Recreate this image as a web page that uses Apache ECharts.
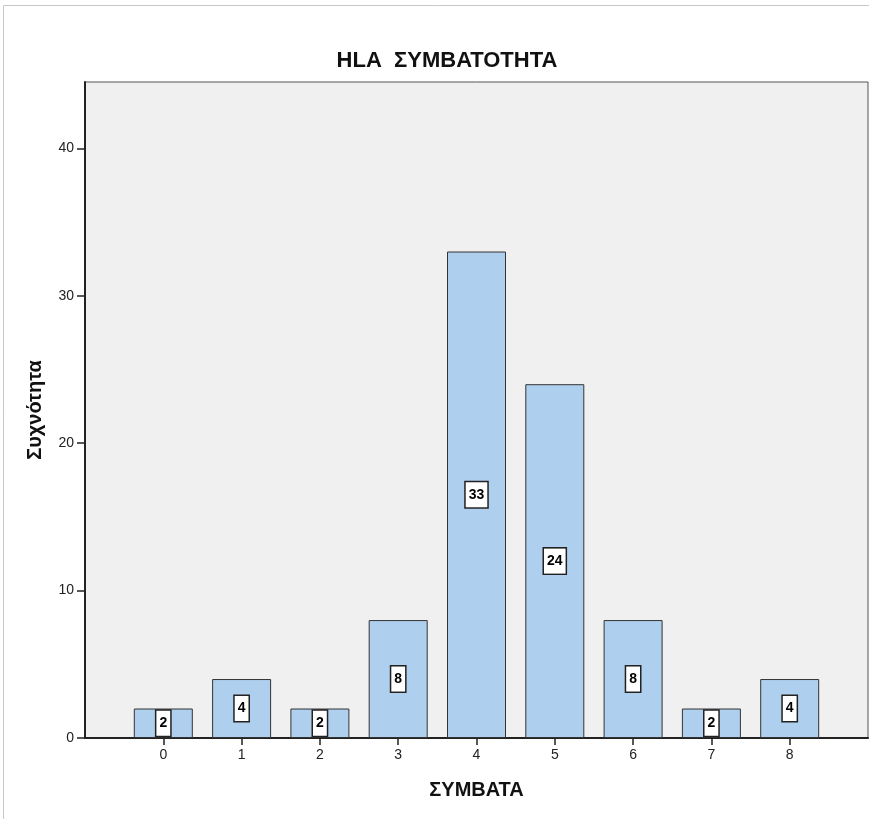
<!DOCTYPE html>
<html>
<head>
<meta charset="utf-8">
<script src="https://cdn.jsdelivr.net/npm/echarts@6/dist/echarts.min.js"></script>
<style>
  html, body { margin: 0; padding: 0; background: #fff; }
  #main { width: 869px; height: 819px; }
</style>
</head>
<body>
<div id="main"></div>
<script>
var myChart = echarts.init(document.getElementById('main'));

// ΣΥΜΒΑΤΑ categories and frequencies
var categories = [0, 1, 2, 3, 4, 5, 6, 7, 8];
var counts = [2, 4, 2, 8, 33, 24, 8, 2, 4];
var yTicks = [0, 10, 20, 30, 40];

var barData = categories.map(function (c, i) { return [c, counts[i]]; });
var FONT = '"Liberation Sans", Arial, sans-serif';

var option = {
  backgroundColor: '#fff',
  textStyle: { fontFamily: FONT },
  title: {
    text: 'HLA  ΣΥΜΒΑΤΟΤΗΤΑ',
    left: 442,
    top: 45,
    textAlign: 'center',
    textStyle: { fontSize: 22, fontWeight: 'bold', color: '#111', fontFamily: FONT }
  },
  graphic: [{
    type: 'rect',
    silent: true,
    shape: { x: 3.5, y: 5.5, width: 900, height: 900 },
    style: { fill: 'none', stroke: '#c8c8c8', lineWidth: 1 }
  }],
  grid: {
    left: 85, top: 82, right: 1, bottom: 81,
    show: true,
    backgroundColor: '#f0f0f0',
    borderColor: '#555',
    borderWidth: 1
  },
  xAxis: {
    type: 'value',
    min: -1, max: 9, interval: 1,
    name: 'ΣΥΜΒΑΤΑ',
    nameLocation: 'middle',
    nameGap: 42,
    nameTextStyle: { fontSize: 20, fontWeight: 'bold', color: '#111', fontFamily: FONT },
    splitLine: { show: false },
    axisLine: { onZero: false, lineStyle: { color: '#222', width: 2 } },
    axisTick: { show: true, length: 7, customValues: categories, lineStyle: { color: '#222', width: 1.5 } },
    axisLabel: { customValues: categories, fontSize: 14, color: '#222', margin: 10, fontFamily: FONT }
  },
  yAxis: {
    type: 'value',
    min: 0, max: 44.5, interval: 10,
    name: 'Συχνότητα',
    nameLocation: 'middle',
    nameGap: 40,
    nameTextStyle: { fontSize: 20, fontWeight: 'bold', color: '#111', fontFamily: FONT },
    splitLine: { show: false },
    axisLine: { show: true, onZero: false, lineStyle: { color: '#222', width: 2 } },
    axisTick: { show: true, length: 8, customValues: yTicks, lineStyle: { color: '#222', width: 1.5 } },
    axisLabel: { customValues: yTicks, fontSize: 14, color: '#222', margin: 11, fontFamily: FONT }
  },
  series: [{
    type: 'bar',
    data: barData,
    barWidth: 59,
    itemStyle: { color: '#aecfee', borderColor: '#333', borderWidth: 1 },
    label: {
      show: true,
      position: 'inside',
      fontSize: 14,
      lineHeight: 16,
      fontWeight: 'bold',
      color: '#000',
      fontFamily: FONT,
      backgroundColor: '#fff',
      borderColor: '#222',
      borderWidth: 1.5,
      padding: [5, 3, 4, 3]
    }
  }]
};
myChart.setOption(option);
</script>
</body>
</html>
